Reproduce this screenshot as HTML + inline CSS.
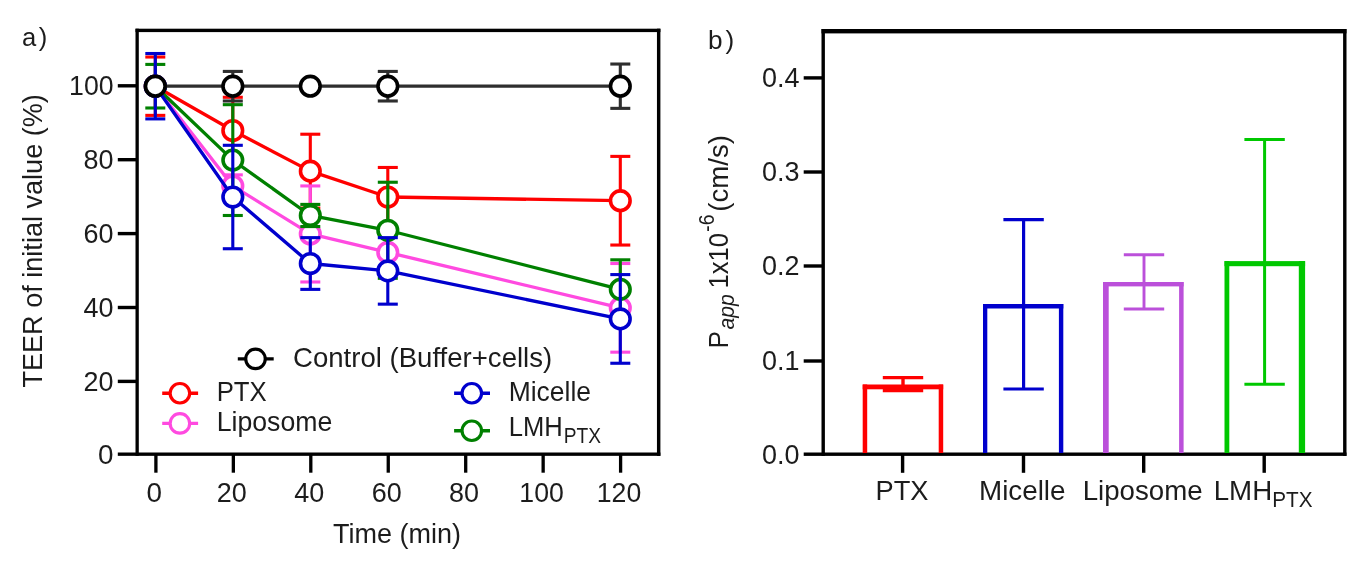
<!DOCTYPE html>
<html lang="en">
<head>
<meta charset="utf-8">
<title>TEER and Papp figure</title>
<style>
html,body{margin:0;padding:0;background:#fff;}
body{width:1366px;height:570px;overflow:hidden;}
svg{display:block;}
svg text{font-family:"Liberation Sans", Arial, Helvetica, sans-serif;fill:#1c1c1c;}
</style>
</head>
<body>
<svg width="1366" height="570" viewBox="0 0 1366 570">
<defs><filter id="soft" x="0" y="0" width="1366" height="570" filterUnits="userSpaceOnUse" color-interpolation-filters="sRGB"><feGaussianBlur stdDeviation="0.62"/></filter></defs>
<rect x="0" y="0" width="1366" height="570" fill="#ffffff"/>
<g filter="url(#soft)">
<g id="chartA">
<rect x="135.5" y="28.7" width="3.3" height="427.15" fill="#000"/>
<rect x="135.5" y="28.7" width="524.9" height="3.4" fill="#000"/>
<rect x="656.95" y="28.7" width="3.45" height="427.15" fill="#000"/>
<rect x="117.8" y="452.5" width="542.6" height="3.35" fill="#000"/>
<rect x="117.8" y="379.7" width="18.7" height="3.4" fill="#000"/>
<rect x="117.8" y="305.8" width="18.7" height="3.4" fill="#000"/>
<rect x="117.8" y="231.9" width="18.7" height="3.4" fill="#000"/>
<rect x="117.8" y="158" width="18.7" height="3.4" fill="#000"/>
<rect x="117.8" y="84.1" width="18.7" height="3.4" fill="#000"/>
<rect x="154.25" y="454.85" width="3.3" height="17.85" fill="#000"/>
<rect x="231.7" y="454.85" width="3.3" height="17.85" fill="#000"/>
<rect x="309.15" y="454.85" width="3.3" height="17.85" fill="#000"/>
<rect x="386.6" y="454.85" width="3.3" height="17.85" fill="#000"/>
<rect x="464.05" y="454.85" width="3.3" height="17.85" fill="#000"/>
<rect x="541.5" y="454.85" width="3.3" height="17.85" fill="#000"/>
<rect x="618.95" y="454.85" width="3.3" height="17.85" fill="#000"/>
</g>
<g id="seriesA">
<g>
<line x1="155.3" y1="57.02" x2="155.3" y2="115.38" stroke="#ff0000" stroke-width="3.1" stroke-linecap="butt"/>
<line x1="145.3" y1="57.02" x2="165.3" y2="57.02" stroke="#ff0000" stroke-width="3.1" stroke-linecap="butt"/>
<line x1="145.3" y1="115.38" x2="165.3" y2="115.38" stroke="#ff0000" stroke-width="3.1" stroke-linecap="butt"/>
<line x1="232.8" y1="97.28" x2="232.8" y2="163.77" stroke="#ff0000" stroke-width="3.1" stroke-linecap="butt"/>
<line x1="222.8" y1="97.28" x2="242.8" y2="97.28" stroke="#ff0000" stroke-width="3.1" stroke-linecap="butt"/>
<line x1="222.8" y1="163.77" x2="242.8" y2="163.77" stroke="#ff0000" stroke-width="3.1" stroke-linecap="butt"/>
<line x1="310.3" y1="134.22" x2="310.3" y2="208.1" stroke="#ff0000" stroke-width="3.1" stroke-linecap="butt"/>
<line x1="300.3" y1="134.22" x2="320.3" y2="134.22" stroke="#ff0000" stroke-width="3.1" stroke-linecap="butt"/>
<line x1="300.3" y1="208.1" x2="320.3" y2="208.1" stroke="#ff0000" stroke-width="3.1" stroke-linecap="butt"/>
<line x1="387.8" y1="167.47" x2="387.8" y2="226.57" stroke="#ff0000" stroke-width="3.1" stroke-linecap="butt"/>
<line x1="377.8" y1="167.47" x2="397.8" y2="167.47" stroke="#ff0000" stroke-width="3.1" stroke-linecap="butt"/>
<line x1="377.8" y1="226.57" x2="397.8" y2="226.57" stroke="#ff0000" stroke-width="3.1" stroke-linecap="butt"/>
<line x1="620.3" y1="156.39" x2="620.3" y2="245.04" stroke="#ff0000" stroke-width="3.1" stroke-linecap="butt"/>
<line x1="610.3" y1="156.39" x2="630.3" y2="156.39" stroke="#ff0000" stroke-width="3.1" stroke-linecap="butt"/>
<line x1="610.3" y1="245.04" x2="630.3" y2="245.04" stroke="#ff0000" stroke-width="3.1" stroke-linecap="butt"/>
<polyline points="155.3,86.2 232.8,130.53 310.3,171.16 387.8,197.02 620.3,200.71" fill="none" stroke="#ff0000" stroke-width="3.3" stroke-linejoin="round"/>
<circle cx="155.3" cy="86.2" r="9.8" fill="#fff" stroke="#ff0000" stroke-width="3.6"/>
<circle cx="232.8" cy="130.53" r="9.8" fill="#fff" stroke="#ff0000" stroke-width="3.6"/>
<circle cx="310.3" cy="171.16" r="9.8" fill="#fff" stroke="#ff0000" stroke-width="3.6"/>
<circle cx="387.8" cy="197.02" r="9.8" fill="#fff" stroke="#ff0000" stroke-width="3.6"/>
<circle cx="620.3" cy="200.71" r="9.8" fill="#fff" stroke="#ff0000" stroke-width="3.6"/>
</g>
<g>
<line x1="232.8" y1="174.86" x2="232.8" y2="197.02" stroke="#ff4ae0" stroke-width="3.1" stroke-linecap="butt"/>
<line x1="222.8" y1="174.86" x2="242.8" y2="174.86" stroke="#ff4ae0" stroke-width="3.1" stroke-linecap="butt"/>
<line x1="222.8" y1="197.02" x2="242.8" y2="197.02" stroke="#ff4ae0" stroke-width="3.1" stroke-linecap="butt"/>
<line x1="310.3" y1="185.94" x2="310.3" y2="281.98" stroke="#ff4ae0" stroke-width="3.1" stroke-linecap="butt"/>
<line x1="300.3" y1="185.94" x2="320.3" y2="185.94" stroke="#ff4ae0" stroke-width="3.1" stroke-linecap="butt"/>
<line x1="300.3" y1="281.98" x2="320.3" y2="281.98" stroke="#ff4ae0" stroke-width="3.1" stroke-linecap="butt"/>
<line x1="620.3" y1="263.51" x2="620.3" y2="352.17" stroke="#ff4ae0" stroke-width="3.1" stroke-linecap="butt"/>
<line x1="610.3" y1="263.51" x2="630.3" y2="263.51" stroke="#ff4ae0" stroke-width="3.1" stroke-linecap="butt"/>
<line x1="610.3" y1="352.17" x2="630.3" y2="352.17" stroke="#ff4ae0" stroke-width="3.1" stroke-linecap="butt"/>
<polyline points="155.3,86.2 232.8,185.94 310.3,233.96 387.8,252.43 620.3,307.84" fill="none" stroke="#ff4ae0" stroke-width="3.3" stroke-linejoin="round"/>
<circle cx="155.3" cy="86.2" r="9.8" fill="#fff" stroke="#ff4ae0" stroke-width="3.6"/>
<circle cx="232.8" cy="185.94" r="9.8" fill="#fff" stroke="#ff4ae0" stroke-width="3.6"/>
<circle cx="310.3" cy="233.96" r="9.8" fill="#fff" stroke="#ff4ae0" stroke-width="3.6"/>
<circle cx="387.8" cy="252.43" r="9.8" fill="#fff" stroke="#ff4ae0" stroke-width="3.6"/>
<circle cx="620.3" cy="307.84" r="9.8" fill="#fff" stroke="#ff4ae0" stroke-width="3.6"/>
</g>
<g>
<line x1="155.3" y1="64.41" x2="155.3" y2="107.99" stroke="#008000" stroke-width="3.1" stroke-linecap="butt"/>
<line x1="145.3" y1="64.41" x2="165.3" y2="64.41" stroke="#008000" stroke-width="3.1" stroke-linecap="butt"/>
<line x1="145.3" y1="107.99" x2="165.3" y2="107.99" stroke="#008000" stroke-width="3.1" stroke-linecap="butt"/>
<line x1="232.8" y1="104.67" x2="232.8" y2="215.49" stroke="#008000" stroke-width="3.1" stroke-linecap="butt"/>
<line x1="222.8" y1="104.67" x2="242.8" y2="104.67" stroke="#008000" stroke-width="3.1" stroke-linecap="butt"/>
<line x1="222.8" y1="215.49" x2="242.8" y2="215.49" stroke="#008000" stroke-width="3.1" stroke-linecap="butt"/>
<line x1="310.3" y1="204.41" x2="310.3" y2="226.57" stroke="#008000" stroke-width="3.1" stroke-linecap="butt"/>
<line x1="300.3" y1="204.41" x2="320.3" y2="204.41" stroke="#008000" stroke-width="3.1" stroke-linecap="butt"/>
<line x1="300.3" y1="226.57" x2="320.3" y2="226.57" stroke="#008000" stroke-width="3.1" stroke-linecap="butt"/>
<line x1="387.8" y1="182.24" x2="387.8" y2="278.29" stroke="#008000" stroke-width="3.1" stroke-linecap="butt"/>
<line x1="377.8" y1="182.24" x2="397.8" y2="182.24" stroke="#008000" stroke-width="3.1" stroke-linecap="butt"/>
<line x1="377.8" y1="278.29" x2="397.8" y2="278.29" stroke="#008000" stroke-width="3.1" stroke-linecap="butt"/>
<line x1="620.3" y1="259.82" x2="620.3" y2="318.92" stroke="#008000" stroke-width="3.1" stroke-linecap="butt"/>
<line x1="610.3" y1="259.82" x2="630.3" y2="259.82" stroke="#008000" stroke-width="3.1" stroke-linecap="butt"/>
<line x1="610.3" y1="318.92" x2="630.3" y2="318.92" stroke="#008000" stroke-width="3.1" stroke-linecap="butt"/>
<polyline points="155.3,86.2 232.8,160.08 310.3,215.49 387.8,230.27 620.3,289.37" fill="none" stroke="#008000" stroke-width="3.3" stroke-linejoin="round"/>
<circle cx="155.3" cy="86.2" r="9.8" fill="#fff" stroke="#008000" stroke-width="3.6"/>
<circle cx="232.8" cy="160.08" r="9.8" fill="#fff" stroke="#008000" stroke-width="3.6"/>
<circle cx="310.3" cy="215.49" r="9.8" fill="#fff" stroke="#008000" stroke-width="3.6"/>
<circle cx="387.8" cy="230.27" r="9.8" fill="#fff" stroke="#008000" stroke-width="3.6"/>
<circle cx="620.3" cy="289.37" r="9.8" fill="#fff" stroke="#008000" stroke-width="3.6"/>
</g>
<g>
<line x1="155.3" y1="53.51" x2="155.3" y2="118.89" stroke="#0000cd" stroke-width="3.1" stroke-linecap="butt"/>
<line x1="145.3" y1="53.51" x2="165.3" y2="53.51" stroke="#0000cd" stroke-width="3.1" stroke-linecap="butt"/>
<line x1="145.3" y1="118.89" x2="165.3" y2="118.89" stroke="#0000cd" stroke-width="3.1" stroke-linecap="butt"/>
<line x1="232.8" y1="145.3" x2="232.8" y2="248.74" stroke="#0000cd" stroke-width="3.1" stroke-linecap="butt"/>
<line x1="222.8" y1="145.3" x2="242.8" y2="145.3" stroke="#0000cd" stroke-width="3.1" stroke-linecap="butt"/>
<line x1="222.8" y1="248.74" x2="242.8" y2="248.74" stroke="#0000cd" stroke-width="3.1" stroke-linecap="butt"/>
<line x1="310.3" y1="237.65" x2="310.3" y2="289.37" stroke="#0000cd" stroke-width="3.1" stroke-linecap="butt"/>
<line x1="300.3" y1="237.65" x2="320.3" y2="237.65" stroke="#0000cd" stroke-width="3.1" stroke-linecap="butt"/>
<line x1="300.3" y1="289.37" x2="320.3" y2="289.37" stroke="#0000cd" stroke-width="3.1" stroke-linecap="butt"/>
<line x1="387.8" y1="237.65" x2="387.8" y2="304.15" stroke="#0000cd" stroke-width="3.1" stroke-linecap="butt"/>
<line x1="377.8" y1="237.65" x2="397.8" y2="237.65" stroke="#0000cd" stroke-width="3.1" stroke-linecap="butt"/>
<line x1="377.8" y1="304.15" x2="397.8" y2="304.15" stroke="#0000cd" stroke-width="3.1" stroke-linecap="butt"/>
<line x1="620.3" y1="274.59" x2="620.3" y2="363.25" stroke="#0000cd" stroke-width="3.1" stroke-linecap="butt"/>
<line x1="610.3" y1="274.59" x2="630.3" y2="274.59" stroke="#0000cd" stroke-width="3.1" stroke-linecap="butt"/>
<line x1="610.3" y1="363.25" x2="630.3" y2="363.25" stroke="#0000cd" stroke-width="3.1" stroke-linecap="butt"/>
<polyline points="155.3,86.2 232.8,197.02 310.3,263.51 387.8,270.9 620.3,318.92" fill="none" stroke="#0000cd" stroke-width="3.3" stroke-linejoin="round"/>
<circle cx="155.3" cy="86.2" r="9.8" fill="#fff" stroke="#0000cd" stroke-width="3.6"/>
<circle cx="232.8" cy="197.02" r="9.8" fill="#fff" stroke="#0000cd" stroke-width="3.6"/>
<circle cx="310.3" cy="263.51" r="9.8" fill="#fff" stroke="#0000cd" stroke-width="3.6"/>
<circle cx="387.8" cy="270.9" r="9.8" fill="#fff" stroke="#0000cd" stroke-width="3.6"/>
<circle cx="620.3" cy="318.92" r="9.8" fill="#fff" stroke="#0000cd" stroke-width="3.6"/>
</g>
<g>
<line x1="232.8" y1="71.42" x2="232.8" y2="100.98" stroke="#2e2e2e" stroke-width="3.1" stroke-linecap="butt"/>
<line x1="222.8" y1="71.42" x2="242.8" y2="71.42" stroke="#2e2e2e" stroke-width="3.1" stroke-linecap="butt"/>
<line x1="222.8" y1="100.98" x2="242.8" y2="100.98" stroke="#2e2e2e" stroke-width="3.1" stroke-linecap="butt"/>
<line x1="387.8" y1="71.42" x2="387.8" y2="100.98" stroke="#2e2e2e" stroke-width="3.1" stroke-linecap="butt"/>
<line x1="377.8" y1="71.42" x2="397.8" y2="71.42" stroke="#2e2e2e" stroke-width="3.1" stroke-linecap="butt"/>
<line x1="377.8" y1="100.98" x2="397.8" y2="100.98" stroke="#2e2e2e" stroke-width="3.1" stroke-linecap="butt"/>
<line x1="620.3" y1="64.04" x2="620.3" y2="108.36" stroke="#2e2e2e" stroke-width="3.1" stroke-linecap="butt"/>
<line x1="610.3" y1="64.04" x2="630.3" y2="64.04" stroke="#2e2e2e" stroke-width="3.1" stroke-linecap="butt"/>
<line x1="610.3" y1="108.36" x2="630.3" y2="108.36" stroke="#2e2e2e" stroke-width="3.1" stroke-linecap="butt"/>
<polyline points="155.3,86.2 232.8,86.2 310.3,86.2 387.8,86.2 620.3,86.2" fill="none" stroke="#2e2e2e" stroke-width="3.3" stroke-linejoin="round"/>
<circle cx="155.3" cy="86.2" r="9.8" fill="#fff" stroke="#000000" stroke-width="3.6"/>
<circle cx="232.8" cy="86.2" r="9.8" fill="#fff" stroke="#000000" stroke-width="3.6"/>
<circle cx="310.3" cy="86.2" r="9.8" fill="#fff" stroke="#000000" stroke-width="3.6"/>
<circle cx="387.8" cy="86.2" r="9.8" fill="#fff" stroke="#000000" stroke-width="3.6"/>
<circle cx="620.3" cy="86.2" r="9.8" fill="#fff" stroke="#000000" stroke-width="3.6"/>
</g>
</g>
<g id="legendA">
<line x1="237.8" y1="358.9" x2="273.7" y2="358.9" stroke="#000000" stroke-width="3.4" stroke-linecap="butt"/>
<circle cx="255.5" cy="358.9" r="9.75" fill="#fff" stroke="#000000" stroke-width="3.15"/>
<text x="293" y="367.2" font-size="26.9" text-anchor="start" textLength="259.2" lengthAdjust="spacingAndGlyphs">Control (Buffer+cells)</text>
<line x1="162.2" y1="393.2" x2="198.1" y2="393.2" stroke="#ff0000" stroke-width="3.4" stroke-linecap="butt"/>
<circle cx="179.9" cy="393.2" r="9.75" fill="#fff" stroke="#ff0000" stroke-width="3.15"/>
<text x="216.7" y="401.4" font-size="26.9" text-anchor="start" textLength="50" lengthAdjust="spacingAndGlyphs">PTX</text>
<line x1="162.2" y1="423.4" x2="198.1" y2="423.4" stroke="#ff4ae0" stroke-width="3.4" stroke-linecap="butt"/>
<circle cx="179.9" cy="423.4" r="9.75" fill="#fff" stroke="#ff4ae0" stroke-width="3.15"/>
<text x="216.7" y="431.2" font-size="26.9" text-anchor="start" textLength="115.6" lengthAdjust="spacingAndGlyphs">Liposome</text>
<line x1="454.1" y1="393.2" x2="490" y2="393.2" stroke="#0000cd" stroke-width="3.4" stroke-linecap="butt"/>
<circle cx="471.8" cy="393.2" r="9.75" fill="#fff" stroke="#0000cd" stroke-width="3.15"/>
<text x="508.7" y="401.2" font-size="26.9" text-anchor="start" textLength="82.3" lengthAdjust="spacingAndGlyphs">Micelle</text>
<line x1="454.1" y1="430.7" x2="490" y2="430.7" stroke="#008000" stroke-width="3.4" stroke-linecap="butt"/>
<circle cx="471.8" cy="430.7" r="9.75" fill="#fff" stroke="#008000" stroke-width="3.15"/>
<text x="508.7" y="436" font-size="26.9" text-anchor="start" textLength="54" lengthAdjust="spacingAndGlyphs">LMH</text>
<text x="563.8" y="442.9" font-size="22" text-anchor="start" textLength="37.3" lengthAdjust="spacingAndGlyphs">PTX</text>
</g>
<g id="labelsA">
<text x="21.9 38.7" y="45.9" font-size="25.6">a)</text>
<text x="113.6" y="463.65" font-size="26.9" text-anchor="end" textLength="15.5" lengthAdjust="spacingAndGlyphs">0</text>
<text x="113.6" y="390.85" font-size="26.9" text-anchor="end" textLength="30" lengthAdjust="spacingAndGlyphs">20</text>
<text x="113.6" y="316.95" font-size="26.9" text-anchor="end" textLength="30" lengthAdjust="spacingAndGlyphs">40</text>
<text x="113.6" y="243.05" font-size="26.9" text-anchor="end" textLength="30" lengthAdjust="spacingAndGlyphs">60</text>
<text x="113.6" y="169.15" font-size="26.9" text-anchor="end" textLength="30" lengthAdjust="spacingAndGlyphs">80</text>
<text x="113.6" y="95.25" font-size="26.9" text-anchor="end" textLength="44.5" lengthAdjust="spacingAndGlyphs">100</text>
<text x="154.3" y="502.2" font-size="26.9" text-anchor="middle" textLength="15.5" lengthAdjust="spacingAndGlyphs">0</text>
<text x="231.75" y="502.2" font-size="26.9" text-anchor="middle" textLength="30" lengthAdjust="spacingAndGlyphs">20</text>
<text x="309.2" y="502.2" font-size="26.9" text-anchor="middle" textLength="30" lengthAdjust="spacingAndGlyphs">40</text>
<text x="386.65" y="502.2" font-size="26.9" text-anchor="middle" textLength="30" lengthAdjust="spacingAndGlyphs">60</text>
<text x="464.1" y="502.2" font-size="26.9" text-anchor="middle" textLength="30" lengthAdjust="spacingAndGlyphs">80</text>
<text x="541.55" y="502.2" font-size="26.9" text-anchor="middle" textLength="44.5" lengthAdjust="spacingAndGlyphs">100</text>
<text x="619" y="502.2" font-size="26.9" text-anchor="middle" textLength="44.5" lengthAdjust="spacingAndGlyphs">120</text>
<text x="397" y="543.3" font-size="26.9" text-anchor="middle" textLength="128" lengthAdjust="spacingAndGlyphs">Time (min)</text>
<text x="42" y="387.6" font-size="26.9" text-anchor="start" textLength="293.5" lengthAdjust="spacingAndGlyphs" transform="rotate(-90 42 387.6)">TEER of initial value (%)</text>
</g>
<g id="chartB">
<rect x="821.5" y="29" width="3.4" height="426.9" fill="#000"/>
<rect x="821.5" y="29" width="525" height="4.4" fill="#000"/>
<rect x="1343.1" y="29" width="3.4" height="426.9" fill="#000"/>
<rect x="803.7" y="452.5" width="542.8" height="3.4" fill="#000"/>
<rect x="803.7" y="359.3" width="18.8" height="3.4" fill="#000"/>
<rect x="803.7" y="264.3" width="18.8" height="3.4" fill="#000"/>
<rect x="803.7" y="170.3" width="18.8" height="3.4" fill="#000"/>
<rect x="803.7" y="76.2" width="18.8" height="3.4" fill="#000"/>
<rect x="900.9" y="454.9" width="3.4" height="17.9" fill="#000"/>
<rect x="1021.8" y="454.9" width="3.4" height="17.9" fill="#000"/>
<rect x="1142" y="454.9" width="3.4" height="17.9" fill="#000"/>
<rect x="1262.5" y="454.9" width="3.4" height="17.9" fill="#000"/>
</g>
<g id="barsB">
<rect x="862.7" y="384.5" width="4.5" height="68.5" fill="#ff0000"/>
<rect x="938.7" y="384.5" width="4.5" height="68.5" fill="#ff0000"/>
<rect x="862.7" y="384.5" width="80.5" height="4.8" fill="#ff0000"/>
<line x1="903" y1="377.6" x2="903" y2="390.5" stroke="#ff0000" stroke-width="3.4" stroke-linecap="butt"/>
<line x1="882.8" y1="377.6" x2="923.2" y2="377.6" stroke="#ff0000" stroke-width="3.4" stroke-linecap="butt"/>
<line x1="882.8" y1="390.5" x2="923.2" y2="390.5" stroke="#ff0000" stroke-width="3.4" stroke-linecap="butt"/>
<rect x="983" y="304" width="4.3" height="149" fill="#0000cd"/>
<rect x="1058.9" y="304" width="4.4" height="149" fill="#0000cd"/>
<rect x="983" y="304" width="80.3" height="4.5" fill="#0000cd"/>
<line x1="1023.6" y1="219.7" x2="1023.6" y2="389" stroke="#0000cd" stroke-width="3.2" stroke-linecap="butt"/>
<line x1="1003.4" y1="219.7" x2="1043.8" y2="219.7" stroke="#0000cd" stroke-width="3.2" stroke-linecap="butt"/>
<line x1="1003.4" y1="389" x2="1043.8" y2="389" stroke="#0000cd" stroke-width="3.2" stroke-linecap="butt"/>
<rect x="1103" y="282" width="5.7" height="171" fill="#bb50da"/>
<rect x="1179.1" y="282" width="4.5" height="171" fill="#bb50da"/>
<rect x="1103" y="282" width="80.6" height="4.4" fill="#bb50da"/>
<line x1="1144" y1="254.7" x2="1144" y2="309" stroke="#bb50da" stroke-width="2.9" stroke-linecap="butt"/>
<line x1="1123.8" y1="254.7" x2="1164.2" y2="254.7" stroke="#bb50da" stroke-width="2.9" stroke-linecap="butt"/>
<line x1="1123.8" y1="309" x2="1164.2" y2="309" stroke="#bb50da" stroke-width="2.9" stroke-linecap="butt"/>
<rect x="1224.5" y="261.1" width="4.8" height="191.9" fill="#00c800"/>
<rect x="1298.8" y="261.1" width="6.3" height="191.9" fill="#00c800"/>
<rect x="1224.5" y="261.1" width="80.6" height="5.1" fill="#00c800"/>
<line x1="1264.6" y1="139.5" x2="1264.6" y2="384.2" stroke="#00c800" stroke-width="3" stroke-linecap="butt"/>
<line x1="1244.4" y1="139.5" x2="1284.8" y2="139.5" stroke="#00c800" stroke-width="3" stroke-linecap="butt"/>
<line x1="1244.4" y1="384.2" x2="1284.8" y2="384.2" stroke="#00c800" stroke-width="3" stroke-linecap="butt"/>
</g>
<g id="labelsB">
<text x="708.0 725.6" y="48.5" font-size="26.2">b)</text>
<text x="799.4" y="463.55" font-size="27.3" text-anchor="end" textLength="37.5" lengthAdjust="spacingAndGlyphs">0.0</text>
<text x="799.4" y="370.35" font-size="27.3" text-anchor="end" textLength="37.5" lengthAdjust="spacingAndGlyphs">0.1</text>
<text x="799.4" y="275.35" font-size="27.3" text-anchor="end" textLength="37.5" lengthAdjust="spacingAndGlyphs">0.2</text>
<text x="799.4" y="181.35" font-size="27.3" text-anchor="end" textLength="37.5" lengthAdjust="spacingAndGlyphs">0.3</text>
<text x="799.4" y="87.25" font-size="27.3" text-anchor="end" textLength="37.5" lengthAdjust="spacingAndGlyphs">0.4</text>
<text x="875.5" y="500.1" font-size="27.3" text-anchor="start" textLength="53" lengthAdjust="spacingAndGlyphs">PTX</text>
<text x="979" y="500.1" font-size="27.3" text-anchor="start" textLength="86.5" lengthAdjust="spacingAndGlyphs">Micelle</text>
<text x="1082.7" y="500.1" font-size="27.3" text-anchor="start" textLength="120" lengthAdjust="spacingAndGlyphs">Liposome</text>
<text x="1213.7" y="500.1" font-size="27.3" text-anchor="start" textLength="58.5" lengthAdjust="spacingAndGlyphs">LMH</text>
<text x="1272.3" y="507.4" font-size="22" text-anchor="start" textLength="40.3" lengthAdjust="spacingAndGlyphs">PTX</text>
<g transform="rotate(-90 727.9 348.6)">
<text x="727.9" y="348.6" font-size="27.3" text-anchor="start" textLength="17.5" lengthAdjust="spacingAndGlyphs">P</text>
<text x="746.9" y="354.5" font-size="22" text-anchor="start" textLength="35.3" lengthAdjust="spacingAndGlyphs" font-style="italic">app</text>
<text x="788" y="348.6" font-size="27.3" text-anchor="start" textLength="55.6" lengthAdjust="spacingAndGlyphs">1x10</text>
<text x="844.7" y="335.2" font-size="21.5" text-anchor="start" textLength="17.2" lengthAdjust="spacingAndGlyphs">-6</text>
<text x="864.7" y="348.6" font-size="27.3" text-anchor="start" textLength="76.8" lengthAdjust="spacingAndGlyphs">(cm/s)</text>
</g>
</g>
</g>
</svg>
</body>
</html>
